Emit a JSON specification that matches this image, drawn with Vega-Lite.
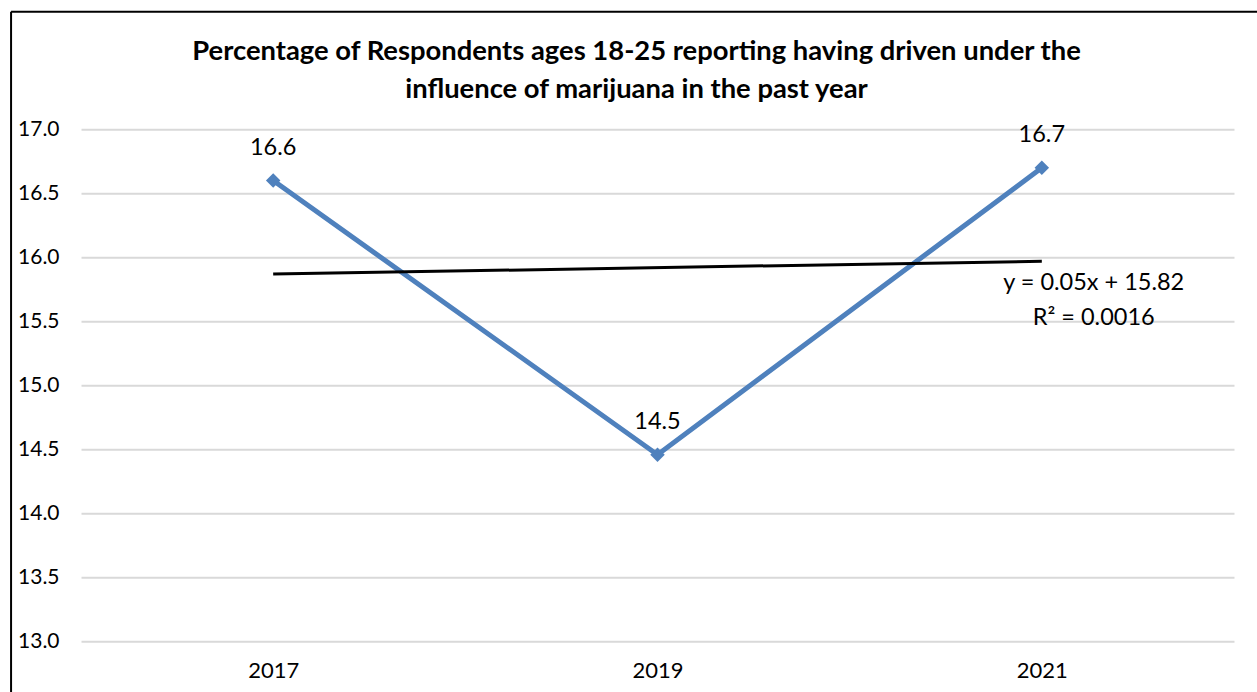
{
  "$schema": "https://vega.github.io/schema/vega-lite/v6.json",
  "autosize": {"type": "none"},
  "width": 1153,
  "height": 512.4,
  "padding": {"left": 81, "top": 129.3, "right": 23, "bottom": 50},
  "background": "white",
  "config": {
    "font": "Lato",
    "view": {"stroke": null},
    "axis": {"labelFont": "Lato", "labelColor": "#000000"}
  },
  "title": {
    "text": ["Percentage of Respondents ages 18-25 reporting having driven under the", "influence of marijuana in the past year"],
    "font": "Lato",
    "fontSize": 27.4,
    "fontWeight": "bold",
    "color": "#000000",
    "lineHeight": 38,
    "anchor": "middle",
    "dx": -21,
    "offset": -93
  },
  "data": {
    "values": [
      {"year": 2017, "value": 16.6},
      {"year": 2019, "value": 14.46},
      {"year": 2021, "value": 16.7}
    ]
  },
  "layer": [
    {
      "data": {"values": [{}]},
      "mark": {"type": "rule", "color": "#000000", "strokeWidth": 2},
      "encoding": {
        "x": {"datum": 2015.636, "type": "quantitative"},
        "y": {"datum": 17.917, "type": "quantitative"},
        "y2": {"datum": 12.4}
      }
    },
    {
      "data": {"values": [{}]},
      "mark": {"type": "rule", "color": "#000000", "strokeWidth": 2},
      "encoding": {
        "x": {"datum": 2015.636, "type": "quantitative"},
        "x2": {"datum": 2023},
        "y": {"datum": 17.917, "type": "quantitative"}
      }
    },
    {
      "mark": {"type": "line", "color": "#4F81BD", "strokeWidth": 5, "point": {"shape": "diamond", "size": 210, "filled": true, "color": "#4F81BD"}},
      "encoding": {
        "x": {
          "field": "year",
          "type": "quantitative",
          "scale": {"domain": [2016, 2022], "nice": false, "zero": false},
          "axis": {
            "values": [2017, 2019, 2021],
            "format": "d",
            "title": null,
            "grid": false,
            "domain": false,
            "ticks": false,
            "labelFontSize": 22,
            "labelPadding": 19
          }
        },
        "y": {
          "field": "value",
          "type": "quantitative",
          "scale": {"domain": [13, 17], "nice": false, "zero": false},
          "axis": {
            "values": [13, 13.5, 14, 14.5, 15, 15.5, 16, 16.5, 17],
            "format": ".1f",
            "title": null,
            "grid": true,
            "gridColor": "#D9D9D9",
            "gridWidth": 2,
            "domain": false,
            "ticks": false,
            "labelFontSize": 21,
            "labelPadding": 22
          }
        }
      }
    },
    {
      "transform": [{"regression": "value", "on": "year", "extent": [2017, 2021]}],
      "mark": {"type": "line", "color": "#000000", "strokeWidth": 3},
      "encoding": {
        "x": {"field": "year", "type": "quantitative"},
        "y": {"field": "value", "type": "quantitative"}
      }
    },
    {
      "mark": {"type": "text", "fontSize": 23.5, "dy": -33, "color": "#000000", "font": "Lato"},
      "encoding": {
        "x": {"field": "year", "type": "quantitative"},
        "y": {"field": "value", "type": "quantitative"},
        "text": {"field": "value", "type": "quantitative", "format": ".1f"}
      }
    },
    {
      "data": {"values": [{}]},
      "mark": {"type": "text", "fontSize": 23.5, "color": "#000000", "font": "Lato", "align": "center", "baseline": "middle", "lineHeight": 35, "text": ["y = 0.05x + 15.82", "R² = 0.0016"]},
      "encoding": {
        "x": {"datum": 2021.27, "type": "quantitative"},
        "y": {"datum": 15.8, "type": "quantitative"}
      }
    }
  ]
}
